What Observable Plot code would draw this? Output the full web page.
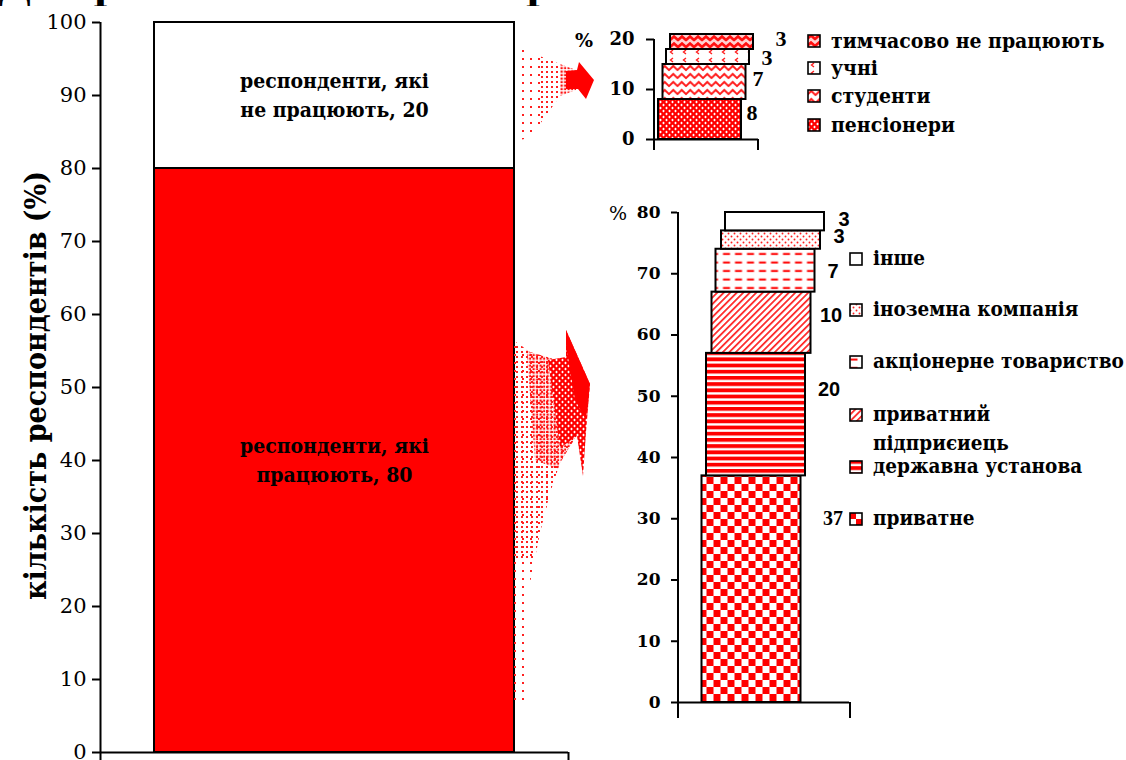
<!DOCTYPE html>
<html><head><meta charset="utf-8">
<script src="https://cdn.jsdelivr.net/npm/d3@7"></script>
<script src="https://cdn.jsdelivr.net/npm/@observablehq/plot@0.6"></script>
<style>
body{margin:0;background:#fff;}
#root{position:relative;width:1126px;height:760px;overflow:hidden;background:#fff;}
.abs{position:absolute;}
.cyr{font-family:"DejaVu Serif Condensed","DejaVu Serif",serif;font-stretch:condensed;}
#title{left:-2px;top:-36px;font-weight:bold;font-size:42px;white-space:nowrap;width:612px;overflow:hidden;line-height:1;}
.leg{position:absolute;font-weight:bold;font-size:21px;letter-spacing:0;white-space:nowrap;line-height:29px;}
.leg.small{font-size:20.5px;}
.leg svg{position:absolute;left:0;top:8px;}
.leg span{position:absolute;left:24px;top:0;}
.pct{position:absolute;font-family:"DejaVu Serif";font-size:19px;}
#main g[aria-label="text"] text, .ylab text{font-stretch:condensed;}
</style></head>
<body>
<svg width="0" height="0" style="position:absolute">
<defs>
  <pattern id="p-pens" width="6" height="6" patternUnits="userSpaceOnUse">
    <rect width="6" height="6" fill="#ff0000"/>
    <rect x="0.3" y="2.5" width="2.4" height="1" fill="#fff"/><rect x="1" y="1.8" width="1" height="2.4" fill="#fff"/>
    <rect x="3.3" y="-0.5" width="2.4" height="1" fill="#fff"/><rect x="4" y="-1.2" width="1" height="2.4" fill="#fff"/>
    <rect x="3.3" y="5.5" width="2.4" height="1" fill="#fff"/><rect x="4" y="4.8" width="1" height="2.4" fill="#fff"/>
  </pattern>
  <pattern id="p-stud" width="8.5" height="8" patternUnits="userSpaceOnUse">
    <rect width="8.5" height="8" fill="#fff"/>
    <path d="M-0.5,6.5 L4.25,2 L9,6.5" fill="none" stroke="#ff2020" stroke-width="2"/>
  </pattern>
  <pattern id="p-pupil" width="13" height="8" patternUnits="userSpaceOnUse">
    <rect width="13" height="8" fill="#fff"/>
    <path d="M7,2 L4.5,4 L7,6" fill="none" stroke="#ff2020" stroke-width="1.4"/>
  </pattern>
  <pattern id="p-temp" width="8" height="7" patternUnits="userSpaceOnUse">
    <rect width="8" height="7" fill="#ffd0d0"/>
    <path d="M-0.5,5.5 L4,1.5 L8.5,5.5" fill="none" stroke="#ff1010" stroke-width="2.6"/>
  </pattern>
  <pattern id="p-check" width="14" height="14" patternUnits="userSpaceOnUse">
    <rect width="14" height="14" fill="#fff"/>
    <rect x="0" y="0" width="7" height="7" fill="#ff0000"/>
    <rect x="7" y="7" width="7" height="7" fill="#ff0000"/>
  </pattern>
  <pattern id="p-stripe" width="10" height="6.2" patternUnits="userSpaceOnUse">
    <rect width="10" height="6.2" fill="#fff"/>
    <rect y="0" width="10" height="3.8" fill="#ff0000"/>
  </pattern>
  <pattern id="p-diag" width="4.6" height="10" patternUnits="userSpaceOnUse" patternTransform="rotate(45)">
    <rect width="4.6" height="10" fill="#fff"/>
    <rect x="0" width="1.7" height="10" fill="#ff2020"/>
  </pattern>
  <pattern id="p-dash" width="12" height="8.5" patternUnits="userSpaceOnUse">
    <rect width="12" height="8.5" fill="#fff"/>
    <rect x="1.5" y="3.5" width="7" height="2" fill="#ff0000"/>
  </pattern>
  <pattern id="p-dots" width="6" height="6" patternUnits="userSpaceOnUse">
    <rect width="6" height="6" fill="#fff"/>
    <circle cx="1.5" cy="1.5" r="0.95" fill="#ff2020"/>
    <circle cx="4.5" cy="4.5" r="0.95" fill="#ff2020"/>
  </pattern>
  <pattern id="p-white" width="4" height="4" patternUnits="userSpaceOnUse">
    <rect width="4" height="4" fill="#fff"/>
  </pattern>
  <pattern id="a-sparse" width="8" height="8" patternUnits="userSpaceOnUse">
    <rect x="2" y="2" width="2" height="2" fill="#ff2020"/>
  </pattern>
  <pattern id="a-mid" width="5" height="5" patternUnits="userSpaceOnUse">
    <rect x="1" y="1" width="2" height="2" fill="#ff2020"/>
  </pattern>
  <pattern id="a-dense" width="3.5" height="3.5" patternUnits="userSpaceOnUse">
    <rect x="0.5" y="0.5" width="2.2" height="2.2" fill="#ff1010"/>
  </pattern>
  <clipPath id="c-top"><polygon points="519,48 560,64 576,70 576,90 560,96 530,138 519,140"/></clipPath>
  <clipPath id="c-bot"><polygon points="513,340 530,352 557,360 566,357 578,433 560,463 550,493 540,533 530,583 527,700 513,702"/></clipPath>
</defs>
</svg>
<div id="root">
  <div id="title" class="abs cyr">Діаграма 1. Зайнятість респондентів</div>
  <div id="main" class="abs" style="left:0;top:0"></div>
  <div id="idle" class="abs" style="left:560px;top:0"></div>
  <div id="work" class="abs" style="left:600px;top:190px"></div>
  <svg id="arrows" class="abs" style="left:0;top:0;pointer-events:none" width="1126" height="760">
    <g clip-path="url(#c-top)">
      <rect x="515" y="40" width="25" height="110" fill="url(#a-sparse)"/>
      <rect x="540" y="40" width="20" height="110" fill="url(#a-mid)"/>
      <rect x="560" y="40" width="20" height="110" fill="url(#a-dense)"/>
    </g>
    <polygon points="566,71 577,70 579,62 594,80 586,99 578,89 566,89" fill="#ff0000"/>
    <g clip-path="url(#c-bot)">
      <rect x="510" y="320" width="80" height="400" fill="url(#a-sparse)"/>
      <polygon points="510,330 600,330 600,470 560,480 540,560 510,560" fill="url(#a-mid)" stroke="none"/>
      <polygon points="525,330 600,330 600,440 560,470 535,460" fill="url(#a-dense)"/>
    </g>
    <polygon points="548,360 566,357 566,330 590,384 586,432 583,476 577,436 560,448" fill="url(#p-pens)"/>
    <polygon points="566,345 566,330 590,384 586,420 575,400" fill="#ff0000"/>
  </svg>
  <div class="pct" style="left:575px;top:29px;font-weight:bold">%</div>
  <div class="pct" style="left:609px;top:202px">%</div>
</div>
<script>
// ---------- data ----------
const mainCategory = "респонденти";
const mainSeries = ["працюють", "не працюють"];
const mainValues = [80, 20];
const mainLabels = ["респонденти, які\nпрацюють, 80", "респонденти, які\nне працюють, 20"];
const mainTicks = [0, 10, 20, 30, 40, 50, 60, 70, 80, 90, 100];
const mainYLabel = "кількість респондентів (%)";

const idleCategory = "не працюють";
const idleSeries = ["пенсіонери", "студенти", "учні", "тимчасово не працюють"];
const idleValues = [8, 7, 3, 3];
const idleTicks = [0, 10, 20];

const workCategory = "працюють";
const workSeries = ["приватне", "державна установа", "приватний підприємець", "акціонерне товариство", "іноземна компанія", "інше"];
const workLegendNames = ["приватне", "державна установа", "приватний\nпідприєиець", "акціонерне товариство", "іноземна компанія", "інше"];
const workValues = [37, 20, 10, 7, 3, 3];
const workTicks = [0, 10, 20, 30, 40, 50, 60, 70, 80];

// ---------- styles ----------
const CYR = "DejaVu Serif Condensed, DejaVu Serif, serif";
const idlePatterns = ["p-pens", "p-stud", "p-pupil", "p-temp"];
const idleBarDx = [-6, -1.5, 2, 6];
const idleLabelDx = [46, 52, 61, 75];
const idleLabelDy = [13, 14, 8, 4];
const idleLegendTop = [26, 53, 81, 110].reverse();
const workPatterns = ["p-check", "p-stripe", "p-diag", "p-dash", "p-dots", "p-white"];
const workBarDx = [-12.5, -8, -2.5, 1.5, 7, 11];
const workLabelDx = [69, 65, 67, 69, 75, 80];
const workLabelDy = [43, 36, 23, 22, 6, 7];
const workLabelFont = ["Liberation Serif", "Liberation Sans", "Liberation Sans", "Liberation Sans", "Liberation Sans", "Liberation Sans"];
const workLegendTop = [504, 452, 400, 347, 295, 244];

function edgeRules(cat, half, yBelow, yTop) {
  return [
    Plot.ruleX([cat], {x: d => d, dx: -half, y1: yBelow, y2: yTop, stroke: "black", strokeWidth: 2}),
    Plot.ruleX([cat], {x: d => d, dx: half, y1: yBelow, y2: 0, stroke: "black", strokeWidth: 2})
  ];
}

// ---------- main chart ----------
{
  const W = 600, H = 760, ml = 100, mr = 32, mt = 22, mb = 8;
  const half = (W - ml - mr) / 2;
  const table = mainSeries.map((s, i) => ({cat: mainCategory, series: s, value: mainValues[i], label: mainLabels[i]}));
  const chart = Plot.plot({
    width: W, height: H, marginLeft: ml, marginRight: mr, marginTop: mt, marginBottom: mb,
    style: {fontFamily: "DejaVu Serif", fontSize: "21px", color: "black", background: "transparent", overflow: "visible"},
    x: {domain: [mainCategory], padding: 0.13, axis: null},
    y: {domain: [0, 100]},
    color: {domain: mainSeries, range: ["#ff0000", "#ffffff"]},
    marks: [
      Plot.barY(table, Plot.stackY({x: "cat", y: "value", fill: "series", stroke: "black", strokeWidth: 2})),
      Plot.text(table, Plot.stackY({x: "cat", y: "value", text: "label", fontFamily: CYR, fontWeight: "bold", fontSize: 21, lineHeight: 1.38, dy: -2, fill: "black"})),
      Plot.axisY({ticks: mainTicks, tickSize: 8, tickPadding: 6, label: null, strokeWidth: 2, tickFormat: d => d}),
      Plot.ruleY([0], {stroke: "black", strokeWidth: 2}),
      ...edgeRules(mainCategory, half, -1.2, 100),
    ]
  });
  document.getElementById("main").appendChild(chart);
  const lab = Plot.plot({
    width: W, height: H, marginLeft: ml, marginRight: mr, marginTop: mt, marginBottom: mb,
    style: {background: "transparent", overflow: "visible"},
    x: {domain: [mainCategory], axis: null}, y: {domain: [0, 100], axis: null},
    marks: [Plot.text([mainYLabel], {frameAnchor: "left", rotate: -90, dx: -64, dy: -2, textAnchor: "middle", fontFamily: CYR, fontWeight: "bold", fontSize: 30, fill: "black"})]
  });
  lab.classList.add("ylab");
  lab.style.position = "absolute"; lab.style.left = "0"; lab.style.top = "0";
  document.getElementById("main").appendChild(lab);
}

// ---------- stacked sub-chart helper ----------
function subChart(el, cfg) {
  const {W, H, ml, mr, mt, mb, cat, values, ticks, patterns, barDx, labelDx, labelDy, labelFont, labelSize, padding, tickFont, tickSize, tickPadding, yMax, below} = cfg;
  const ends = Array.from(d3.cumsum(values));
  const rows = values.map((v, i) => ({cat, y1: ends[i] - v, y2: ends[i], v}));
  const half = (W - ml - mr) / 2;
  const marks = [];
  rows.forEach((r, i) => {
    marks.push(Plot.barY([r], {x: "cat", y1: "y1", y2: "y2", fill: `url(#${patterns[i]})`, stroke: "black", strokeWidth: 2, dx: barDx[i]}));
  });
  rows.forEach((r, i) => {
    marks.push(Plot.text([r], {x: "cat", y: "y2", text: "v", dx: labelDx[i], dy: labelDy[i], fontFamily: labelFont[i], fontWeight: "bold", fontSize: labelSize, fill: "black"}));
  });
  marks.push(Plot.axisY({ticks, tickSize, tickPadding, label: null, strokeWidth: 2, fontWeight: "bold", tickFormat: d => d}));
  marks.push(Plot.ruleY([0], {stroke: "black", strokeWidth: 2}));
  marks.push(...edgeRules(cat, half, below, yMax));
  const chart = Plot.plot({
    width: W, height: H, marginLeft: ml, marginRight: mr, marginTop: mt, marginBottom: mb,
    style: {fontFamily: tickFont, fontSize: cfg.tickFontSize, color: "black", background: "transparent", overflow: "visible"},
    x: {domain: [cat], padding, axis: null},
    y: {domain: [0, yMax]},
    marks
  });
  el.appendChild(chart);
}

subChart(document.getElementById("idle"), {
  W: 220, H: 160, ml: 94, mr: 22, mt: 39, mb: 21, cat: idleCategory, values: idleValues, ticks: idleTicks,
  patterns: idlePatterns, barDx: idleBarDx, labelDx: idleLabelDx, labelDy: idleLabelDy,
  labelFont: idleValues.map(() => "Liberation Serif"), labelSize: 22, padding: 0.1064,
  tickFont: "DejaVu Serif", tickFontSize: "18px", tickSize: 8, tickPadding: 12, yMax: 20, below: -2.2
});

subChart(document.getElementById("work"), {
  W: 280, H: 540, ml: 77, mr: 31, mt: 22, mb: 28, cat: workCategory, values: workValues, ticks: workTicks,
  patterns: workPatterns, barDx: workBarDx, labelDx: workLabelDx, labelDy: workLabelDy,
  labelFont: workLabelFont, labelSize: 20, padding: 0.2694,
  tickFont: "DejaVu Serif", tickFontSize: "17px", tickSize: 6, tickPadding: 11, yMax: 80, below: -2.6
});

// ---------- legends (HTML) ----------
const root = document.getElementById("root");
function legendItem(left, top, pattern, name, extra) {
  const d = document.createElement("div");
  d.className = "leg cyr" + (extra ? " " + extra : "");
  d.style.left = left + "px"; d.style.top = top + "px";
  const lines = name.split("\n");
  d.innerHTML = `<svg width="14" height="14"><rect x="1" y="1" width="12" height="12" fill="url(#${pattern})" stroke="black" stroke-width="1.6"/></svg>` +
    `<span>${lines.join("<br>")}</span>`;
  root.appendChild(d);
}
idleSeries.forEach((s, i) => legendItem(807, idleLegendTop[i], idlePatterns[i], s));
workSeries.forEach((s, i) => legendItem(849, workLegendTop[i], workPatterns[i], workLegendNames[i], "small"));
</script>
</body></html>
